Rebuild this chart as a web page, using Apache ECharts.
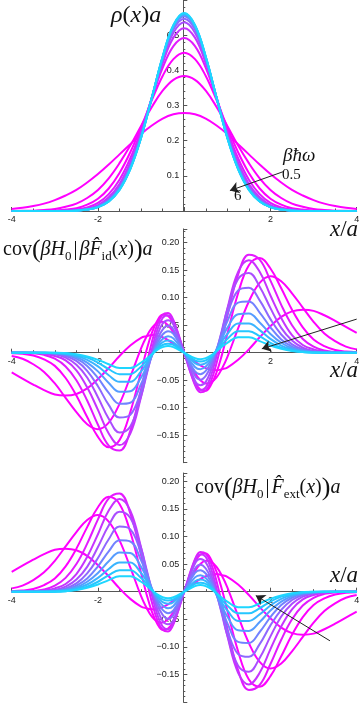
<!DOCTYPE html>
<html>
<head>
<meta charset="utf-8">
<script src="https://cdn.jsdelivr.net/npm/echarts@6/dist/echarts.min.js"></script>
<style>
html, body { margin: 0; padding: 0; background: #fff; }
#chart { width: 364px; height: 706px; }
</style>
</head>
<body>
<div id="chart"></div>
<script>
// beta*hbar*omega of each curve, magenta (hot) -> cyan (cold)
var betaHw = [0.5, 1, 1.5, 2, 2.5, 3, 3.5, 4, 4.5, 5, 5.5, 6];
var curveColors = ['#ff00ff', '#ff00ff', '#ff00ff', '#e31aff', '#c634ff', '#aa4eff',
                   '#8e68ff', '#7282ff', '#569cff', '#3ab4ff', '#26c6ff', '#1ed6ff'];

// x/a positions
var xRho = [-4, -3.75, -3.5, -3.25, -3, -2.75, -2.5, -2.25, -2, -1.75, -1.5, -1.25, -1, -0.75, -0.5, -0.25, 0,
            0.25, 0.5, 0.75, 1, 1.25, 1.5, 1.75, 2, 2.25, 2.5, 2.75, 3, 3.25, 3.5, 3.75, 4];
var xCov = [-4, -3.75, -3.5, -3.25, -3, -2.75, -2.5, -2.25, -2, -1.75, -1.5, -1.25, -1, -0.875, -0.75, -0.625, -0.5, -0.375, -0.25, 0,
            0.25, 0.375, 0.5, 0.625, 0.75, 0.875, 1, 1.25, 1.5, 1.75, 2, 2.25, 2.5, 2.75, 3, 3.25, 3.5, 3.75, 4];

// rho(x) a
var rho05 = [0.006, 0.009, 0.014, 0.021, 0.031, 0.044, 0.060, 0.081, 0.105, 0.132, 0.161, 0.190, 0.219, 0.243, 0.263, 0.275, 0.279, 0.275, 0.263, 0.243, 0.219, 0.190, 0.161, 0.132, 0.105, 0.081, 0.060, 0.044, 0.031, 0.021, 0.014, 0.009, 0.006];
var rho10 = [0, 0.001, 0.001, 0.003, 0.006, 0.012, 0.021, 0.037, 0.060, 0.093, 0.136, 0.186, 0.242, 0.296, 0.342, 0.373, 0.384, 0.373, 0.342, 0.296, 0.242, 0.186, 0.136, 0.093, 0.060, 0.037, 0.021, 0.012, 0.006, 0.003, 0.001, 0.001, 0];
var rho15 = [0, 0, 0, 0.001, 0.001, 0.004, 0.008, 0.018, 0.035, 0.064, 0.108, 0.167, 0.238, 0.315, 0.384, 0.432, 0.450, 0.432, 0.384, 0.315, 0.238, 0.167, 0.108, 0.064, 0.035, 0.018, 0.008, 0.004, 0.001, 0.001, 0, 0, 0];
var rho20 = [0, 0, 0, 0, 0.001, 0.002, 0.004, 0.010, 0.023, 0.048, 0.089, 0.150, 0.230, 0.321, 0.407, 0.469, 0.492, 0.469, 0.407, 0.321, 0.230, 0.150, 0.089, 0.048, 0.023, 0.010, 0.004, 0.002, 0.001, 0, 0, 0, 0];
var rho25 = [0, 0, 0, 0, 0, 0.001, 0.003, 0.007, 0.017, 0.039, 0.077, 0.138, 0.222, 0.322, 0.420, 0.493, 0.520, 0.493, 0.420, 0.322, 0.222, 0.138, 0.077, 0.039, 0.017, 0.007, 0.003, 0.001, 0, 0, 0, 0, 0];
var rho30 = [0, 0, 0, 0, 0, 0.001, 0.002, 0.005, 0.014, 0.034, 0.070, 0.130, 0.217, 0.323, 0.428, 0.507, 0.537, 0.507, 0.428, 0.323, 0.217, 0.130, 0.070, 0.034, 0.014, 0.005, 0.002, 0.001, 0, 0, 0, 0, 0];
var rho35 = [0, 0, 0, 0, 0, 0, 0.002, 0.005, 0.013, 0.031, 0.066, 0.126, 0.214, 0.322, 0.433, 0.516, 0.547, 0.516, 0.433, 0.322, 0.214, 0.126, 0.066, 0.031, 0.013, 0.005, 0.002, 0, 0, 0, 0, 0, 0];
var rho40 = [0, 0, 0, 0, 0, 0, 0.001, 0.004, 0.012, 0.029, 0.063, 0.123, 0.211, 0.322, 0.435, 0.522, 0.554, 0.522, 0.435, 0.322, 0.211, 0.123, 0.063, 0.029, 0.012, 0.004, 0.001, 0, 0, 0, 0, 0, 0];
var rho45 = [0, 0, 0, 0, 0, 0, 0.001, 0.004, 0.011, 0.028, 0.062, 0.121, 0.210, 0.322, 0.437, 0.525, 0.558, 0.525, 0.437, 0.322, 0.210, 0.121, 0.062, 0.028, 0.011, 0.004, 0.001, 0, 0, 0, 0, 0, 0];
var rho50 = [0, 0, 0, 0, 0, 0, 0.001, 0.004, 0.011, 0.027, 0.061, 0.120, 0.209, 0.322, 0.438, 0.527, 0.560, 0.527, 0.438, 0.322, 0.209, 0.120, 0.061, 0.027, 0.011, 0.004, 0.001, 0, 0, 0, 0, 0, 0];
var rho55 = [0, 0, 0, 0, 0, 0, 0.001, 0.004, 0.011, 0.027, 0.060, 0.119, 0.208, 0.322, 0.438, 0.528, 0.562, 0.528, 0.438, 0.322, 0.208, 0.119, 0.060, 0.027, 0.011, 0.004, 0.001, 0, 0, 0, 0, 0, 0];
var rho60 = [0, 0, 0, 0, 0, 0, 0.001, 0.004, 0.011, 0.027, 0.060, 0.119, 0.208, 0.322, 0.439, 0.529, 0.563, 0.529, 0.439, 0.322, 0.208, 0.119, 0.060, 0.027, 0.011, 0.004, 0.001, 0, 0, 0, 0, 0, 0];

// cov(beta H0 | beta F_id(x)) a
var covId05 = [-0.036, -0.047, -0.058, -0.068, -0.076, -0.078, -0.075, -0.065, -0.048, -0.028, -0.006, 0.013, 0.027, 0.030, 0.032, 0.031, 0.028, 0.023, 0.016, 0, -0.016, -0.023, -0.028, -0.031, -0.032, -0.030, -0.027, -0.013, 0.006, 0.028, 0.048, 0.065, 0.075, 0.078, 0.076, 0.068, 0.058, 0.047, 0.036];
var covId10 = [-0.006, -0.011, -0.021, -0.035, -0.056, -0.082, -0.108, -0.130, -0.139, -0.127, -0.093, -0.044, 0.008, 0.029, 0.045, 0.054, 0.056, 0.050, 0.037, 0, -0.037, -0.050, -0.056, -0.054, -0.045, -0.029, -0.008, 0.044, 0.093, 0.127, 0.139, 0.130, 0.108, 0.082, 0.056, 0.035, 0.021, 0.011, 0.006];
var covId15 = [-0.001, -0.002, -0.005, -0.012, -0.024, -0.046, -0.078, -0.117, -0.153, -0.172, -0.159, -0.108, -0.034, 0.004, 0.036, 0.058, 0.069, 0.067, 0.053, 0, -0.053, -0.067, -0.069, -0.058, -0.036, -0.004, 0.034, 0.108, 0.159, 0.172, 0.153, 0.117, 0.078, 0.046, 0.024, 0.012, 0.005, 0.002, 0.001];
var covId20 = [0, 0, -0.001, -0.004, -0.011, -0.025, -0.050, -0.087, -0.131, -0.169, -0.178, -0.142, -0.066, -0.022, 0.019, 0.051, 0.069, 0.072, 0.059, 0, -0.059, -0.072, -0.069, -0.051, -0.019, 0.022, 0.066, 0.142, 0.178, 0.169, 0.131, 0.087, 0.050, 0.025, 0.011, 0.004, 0.001, 0, 0];
var covId25 = [0, 0, -0.001, -0.002, -0.006, -0.014, -0.032, -0.063, -0.104, -0.147, -0.168, -0.147, -0.080, -0.037, 0.006, 0.041, 0.063, 0.068, 0.057, 0, -0.057, -0.068, -0.063, -0.041, -0.006, 0.037, 0.080, 0.147, 0.168, 0.147, 0.104, 0.063, 0.032, 0.014, 0.006, 0.002, 0.001, 0, 0];
var covId30 = [0, 0, 0, -0.001, -0.003, -0.009, -0.022, -0.045, -0.081, -0.120, -0.145, -0.134, -0.079, -0.041, -0.002, 0.031, 0.053, 0.059, 0.051, 0, -0.051, -0.059, -0.053, -0.031, 0.002, 0.041, 0.079, 0.134, 0.145, 0.120, 0.081, 0.045, 0.022, 0.009, 0.003, 0.001, 0, 0, 0];
var covId35 = [0, 0, 0, -0.001, -0.002, -0.006, -0.015, -0.033, -0.061, -0.095, -0.118, -0.113, -0.070, -0.038, -0.005, 0.023, 0.042, 0.049, 0.042, 0, -0.042, -0.049, -0.042, -0.023, 0.005, 0.038, 0.070, 0.113, 0.118, 0.095, 0.061, 0.033, 0.015, 0.006, 0.002, 0.001, 0, 0, 0];
var covId40 = [0, 0, 0, 0, -0.001, -0.004, -0.011, -0.024, -0.046, -0.073, -0.093, -0.091, -0.057, -0.032, -0.006, 0.017, 0.033, 0.039, 0.034, 0, -0.034, -0.039, -0.033, -0.017, 0.006, 0.032, 0.057, 0.091, 0.093, 0.073, 0.046, 0.024, 0.011, 0.004, 0.001, 0, 0, 0, 0];
var covId45 = [0, 0, 0, 0, -0.001, -0.003, -0.008, -0.018, -0.034, -0.055, -0.071, -0.070, -0.045, -0.026, -0.005, 0.013, 0.025, 0.030, 0.026, 0, -0.026, -0.030, -0.025, -0.013, 0.005, 0.026, 0.045, 0.070, 0.071, 0.055, 0.034, 0.018, 0.008, 0.003, 0.001, 0, 0, 0, 0];
var covId50 = [0, 0, 0, 0, -0.001, -0.002, -0.006, -0.013, -0.025, -0.041, -0.053, -0.053, -0.034, -0.020, -0.004, 0.009, 0.019, 0.022, 0.019, 0, -0.019, -0.022, -0.019, -0.009, 0.004, 0.020, 0.034, 0.053, 0.053, 0.041, 0.025, 0.013, 0.006, 0.002, 0.001, 0, 0, 0, 0];
var covId55 = [0, 0, 0, 0, 0, -0.001, -0.004, -0.009, -0.018, -0.030, -0.039, -0.039, -0.025, -0.015, -0.003, 0.007, 0.014, 0.016, 0.014, 0, -0.014, -0.016, -0.014, -0.007, 0.003, 0.015, 0.025, 0.039, 0.039, 0.030, 0.018, 0.009, 0.004, 0.001, 0, 0, 0, 0, 0];
var covId60 = [0, 0, 0, 0, 0, -0.001, -0.003, -0.007, -0.013, -0.021, -0.028, -0.028, -0.018, -0.011, -0.003, 0.005, 0.010, 0.012, 0.010, 0, -0.010, -0.012, -0.010, -0.005, 0.003, 0.011, 0.018, 0.028, 0.028, 0.021, 0.013, 0.007, 0.003, 0.001, 0, 0, 0, 0, 0];

// cov(beta H0 | F_ext(x)) a
var covExt05 = [0.036, 0.047, 0.058, 0.068, 0.076, 0.078, 0.075, 0.065, 0.048, 0.028, 0.006, -0.013, -0.027, -0.030, -0.032, -0.031, -0.028, -0.023, -0.016, 0, 0.016, 0.023, 0.028, 0.031, 0.032, 0.030, 0.027, 0.013, -0.006, -0.028, -0.048, -0.065, -0.075, -0.078, -0.076, -0.068, -0.058, -0.047, -0.036];
var covExt10 = [0.006, 0.011, 0.021, 0.035, 0.056, 0.082, 0.108, 0.130, 0.139, 0.127, 0.093, 0.044, -0.008, -0.029, -0.045, -0.054, -0.056, -0.050, -0.037, 0, 0.037, 0.050, 0.056, 0.054, 0.045, 0.029, 0.008, -0.044, -0.093, -0.127, -0.139, -0.130, -0.108, -0.082, -0.056, -0.035, -0.021, -0.011, -0.006];
var covExt15 = [0.001, 0.002, 0.005, 0.012, 0.024, 0.046, 0.078, 0.117, 0.153, 0.172, 0.159, 0.108, 0.034, -0.004, -0.036, -0.058, -0.069, -0.067, -0.053, 0, 0.053, 0.067, 0.069, 0.058, 0.036, 0.004, -0.034, -0.108, -0.159, -0.172, -0.153, -0.117, -0.078, -0.046, -0.024, -0.012, -0.005, -0.002, -0.001];
var covExt20 = [0, 0, 0.001, 0.004, 0.011, 0.025, 0.050, 0.087, 0.131, 0.169, 0.178, 0.142, 0.066, 0.022, -0.019, -0.051, -0.069, -0.072, -0.059, 0, 0.059, 0.072, 0.069, 0.051, 0.019, -0.022, -0.066, -0.142, -0.178, -0.169, -0.131, -0.087, -0.050, -0.025, -0.011, -0.004, -0.001, 0, 0];
var covExt25 = [0, 0, 0.001, 0.002, 0.006, 0.014, 0.032, 0.063, 0.104, 0.147, 0.168, 0.147, 0.080, 0.037, -0.006, -0.041, -0.063, -0.068, -0.057, 0, 0.057, 0.068, 0.063, 0.041, 0.006, -0.037, -0.080, -0.147, -0.168, -0.147, -0.104, -0.063, -0.032, -0.014, -0.006, -0.002, -0.001, 0, 0];
var covExt30 = [0, 0, 0, 0.001, 0.003, 0.009, 0.022, 0.045, 0.081, 0.120, 0.145, 0.134, 0.079, 0.041, 0.002, -0.031, -0.053, -0.059, -0.051, 0, 0.051, 0.059, 0.053, 0.031, -0.002, -0.041, -0.079, -0.134, -0.145, -0.120, -0.081, -0.045, -0.022, -0.009, -0.003, -0.001, 0, 0, 0];
var covExt35 = [0, 0, 0, 0.001, 0.002, 0.006, 0.015, 0.033, 0.061, 0.095, 0.118, 0.113, 0.070, 0.038, 0.005, -0.023, -0.042, -0.049, -0.042, 0, 0.042, 0.049, 0.042, 0.023, -0.005, -0.038, -0.070, -0.113, -0.118, -0.095, -0.061, -0.033, -0.015, -0.006, -0.002, -0.001, 0, 0, 0];
var covExt40 = [0, 0, 0, 0, 0.001, 0.004, 0.011, 0.024, 0.046, 0.073, 0.093, 0.091, 0.057, 0.032, 0.006, -0.017, -0.033, -0.039, -0.034, 0, 0.034, 0.039, 0.033, 0.017, -0.006, -0.032, -0.057, -0.091, -0.093, -0.073, -0.046, -0.024, -0.011, -0.004, -0.001, 0, 0, 0, 0];
var covExt45 = [0, 0, 0, 0, 0.001, 0.003, 0.008, 0.018, 0.034, 0.055, 0.071, 0.070, 0.045, 0.026, 0.005, -0.013, -0.025, -0.030, -0.026, 0, 0.026, 0.030, 0.025, 0.013, -0.005, -0.026, -0.045, -0.070, -0.071, -0.055, -0.034, -0.018, -0.008, -0.003, -0.001, 0, 0, 0, 0];
var covExt50 = [0, 0, 0, 0, 0.001, 0.002, 0.006, 0.013, 0.025, 0.041, 0.053, 0.053, 0.034, 0.020, 0.004, -0.009, -0.019, -0.022, -0.019, 0, 0.019, 0.022, 0.019, 0.009, -0.004, -0.020, -0.034, -0.053, -0.053, -0.041, -0.025, -0.013, -0.006, -0.002, -0.001, 0, 0, 0, 0];
var covExt55 = [0, 0, 0, 0, 0, 0.001, 0.004, 0.009, 0.018, 0.030, 0.039, 0.039, 0.025, 0.015, 0.003, -0.007, -0.014, -0.016, -0.014, 0, 0.014, 0.016, 0.014, 0.007, -0.003, -0.015, -0.025, -0.039, -0.039, -0.030, -0.018, -0.009, -0.004, -0.001, 0, 0, 0, 0, 0];
var covExt60 = [0, 0, 0, 0, 0, 0.001, 0.003, 0.007, 0.013, 0.021, 0.028, 0.028, 0.018, 0.011, 0.003, -0.005, -0.010, -0.012, -0.010, 0, 0.010, 0.012, 0.010, 0.005, -0.003, -0.011, -0.018, -0.028, -0.028, -0.021, -0.013, -0.007, -0.003, -0.001, 0, 0, 0, 0, 0];

var rhoCurves = [rho05, rho10, rho15, rho20, rho25, rho30, rho35, rho40, rho45, rho50, rho55, rho60];
var covIdCurves = [covId05, covId10, covId15, covId20, covId25, covId30, covId35, covId40, covId45, covId50, covId55, covId60];
var covExtCurves = [covExt05, covExt10, covExt15, covExt20, covExt25, covExt30, covExt35, covExt40, covExt45, covExt50, covExt55, covExt60];

// arrow end points in data units [x, y] (tail, head)
var arrowRho = [[2.3, 0.112], [1.06, 0.058]];
var arrowId = [[4, 0.061], [1.8, 0.007]];
var arrowExt = [[3.38, -0.089], [1.66, -0.007]];

var serif = "'Liberation Serif', 'Times New Roman', serif";
var sans = "'Liberation Sans', Arial, sans-serif";
var axisColor = '#555';

function pairs(xs, ys) {
    return xs.map(function (x, i) { return [x, ys[i]]; });
}

// the axes cross at the origin; onZero only moves the line in v6, so shift whole axes with offset
function xAxisFor(idx, off) {
    return {
        type: 'value', gridIndex: idx, min: -4, max: 4, interval: 2,
        position: 'bottom', offset: off,
        axisLine: { onZero: false, lineStyle: { color: axisColor, width: 1 } },
        axisTick: { show: true, inside: true, length: 4, lineStyle: { color: axisColor } },
        minorTick: { show: true, splitNumber: 4, length: 2.5, lineStyle: { color: axisColor } },
        splitLine: { show: false },
        axisLabel: {
            margin: 4, fontSize: 9, fontFamily: sans, color: '#222',
            formatter: function (v) { return v === 0 ? '' : String(v); }
        }
    };
}

function yAxisFor(idx, min, max, interval, digits, lastLabel) {
    return {
        type: 'value', gridIndex: idx, min: min, max: max, interval: interval,
        position: 'left', offset: -171.6,
        axisLine: { onZero: false, lineStyle: { color: axisColor, width: 1 } },
        axisTick: { show: true, inside: true, length: 4, lineStyle: { color: axisColor } },
        minorTick: { show: true, splitNumber: 5, length: 2, lineStyle: { color: axisColor } },
        splitLine: { show: false },
        axisLabel: {
            margin: 4, fontSize: 9, fontFamily: sans, color: '#222',
            formatter: function (v) {
                if (Math.abs(v) < 1e-9) return '';
                if (v > lastLabel + 1e-9 || v < min + 1e-9) return '';
                return v.toFixed(digits).replace('-', '\u2212');
            }
        }
    };
}

function arrowLine(a) {
    return {
        silent: true, animation: false,
        symbol: ['none', 'arrow'], symbolSize: 9,
        itemStyle: { color: '#222' },
        lineStyle: { color: '#222', width: 1, type: 'solid' },
        label: { show: false },
        emphasis: { disabled: true },
        data: [[{ coord: a[0] }, { coord: a[1] }]]
    };
}

var series = [];
[rhoCurves, covIdCurves, covExtCurves].forEach(function (curves, p) {
    var xs = p === 0 ? xRho : xCov;
    curves.forEach(function (ys, k) {
        var s = {
            type: 'line', name: 'b' + betaHw[k] + '_' + p,
            xAxisIndex: p, yAxisIndex: p,
            data: pairs(xs, ys),
            smooth: 0.4, showSymbol: false, silent: true,
            lineStyle: { width: 2, color: curveColors[k] },
            itemStyle: { color: curveColors[k] },
            emphasis: { disabled: true }
        };
        if (k === curves.length - 1) {
            s.markLine = arrowLine([arrowRho, arrowId, arrowExt][p]);
        }
        series.push(s);
    });
});

var it = { fontFamily: serif, fontStyle: 'italic', fontSize: 20, color: '#111' };
var up = { fontFamily: serif, fontSize: 20, color: '#111' };
var big = { fontFamily: serif, fontSize: 26, color: '#111' };
var sub = { fontFamily: serif, fontSize: 13, color: '#111', verticalAlign: 'bottom', lineHeight: 12 };
var bar = { fontFamily: serif, fontSize: 20, color: '#111', padding: [0, 2, 0, 2] };

function mathText(left, top, text, size) {
    var r = { i: Object.assign({}, it), n: Object.assign({}, up), p: big, s: sub, b: bar };
    if (size) { r.i.fontSize = size; r.n.fontSize = size; }
    return { type: 'text', left: left, top: top, z: 100, silent: true,
             style: { text: text, rich: r, fill: '#111' } };
}

var option = {
    animation: false,
    backgroundColor: '#fff',
    grid: [
        { left: 11.7, top: 0, width: 345, height: 211, outerBoundsMode: 'none' },
        { left: 11.7, top: 228.9, width: 345, height: 233.8, outerBoundsMode: 'none' },
        { left: 11.7, top: 473, width: 345, height: 229.1, outerBoundsMode: 'none' }
    ],
    xAxis: [xAxisFor(0, 0), xAxisFor(1, -110), xAxisFor(2, -110.4)],
    yAxis: [
        yAxisFor(0, 0, 0.6, 0.1, 1, 0.5),
        yAxisFor(1, -0.2, 0.225, 0.05, 2, 0.2),
        yAxisFor(2, -0.2, 0.215, 0.05, 2, 0.2)
    ],
    series: series,
    graphic: [
        mathText(111, 4, '{i|\u03c1}{n|(}{i|x}{n|)}{i|a}', 24),
        mathText(283, 146, '{i|\u03b2\u0127\u03c9}', 19),
        mathText(282, 168, '{n|0.5}', 15),
        mathText(234, 189, '{n|6}', 15),
        mathText(330, 218, '{i|x}{n|/}{i|a}', 23),
        mathText(3, 237, '{n|cov}{p|(}{i|\u03b2H}{s|0}{b||}{i|\u03b2F\u0302}{s|id}{n|(}{i|x}{n|)}{p|)}{i|a}'),
        mathText(330, 359, '{i|x}{n|/}{i|a}', 23),
        mathText(195, 475, '{n|cov}{p|(}{i|\u03b2H}{s|0}{b||}{i|F\u0302}{s|ext}{n|(}{i|x}{n|)}{p|)}{i|a}'),
        mathText(330, 564, '{i|x}{n|/}{i|a}', 23)
    ]
};

var myChart = echarts.init(document.getElementById('chart'));
myChart.setOption(option);
</script>
</body>
</html>
